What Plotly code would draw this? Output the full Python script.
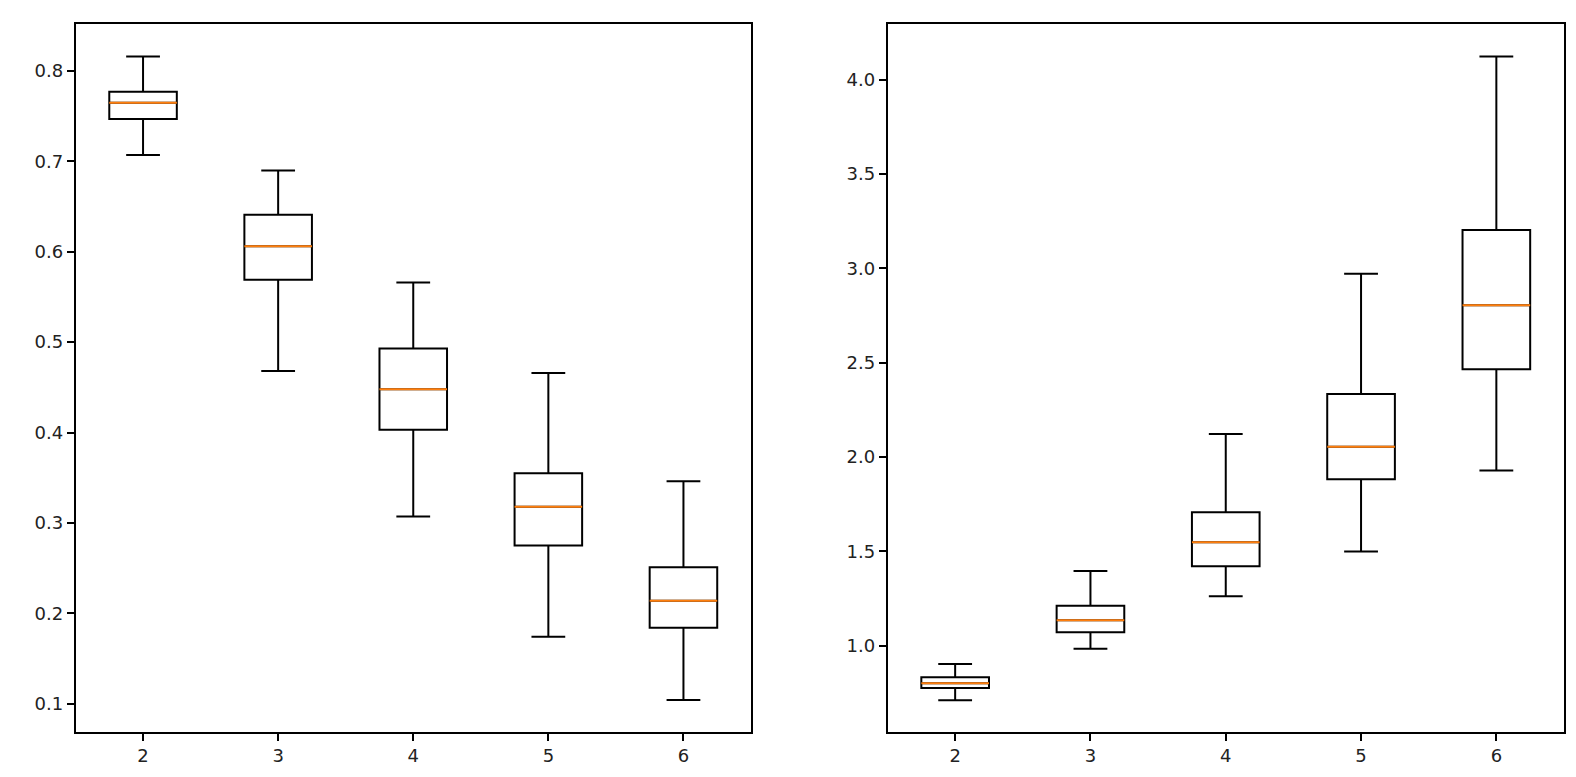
import plotly.graph_objects as go

W, H = 1576, 777

positions = [2, 3, 4, 5, 6]

# left panel (decreasing)
left_lower = [0.707, 0.468, 0.307, 0.174, 0.104]
left_q1 = [0.747, 0.569, 0.403, 0.275, 0.184]
left_median = [0.765, 0.606, 0.448, 0.318, 0.214]
left_q3 = [0.777, 0.641, 0.493, 0.355, 0.251]
left_upper = [0.816, 0.690, 0.566, 0.466, 0.346]

# right panel (increasing)
right_lower = [0.711, 0.984, 1.262, 1.500, 1.929]
right_q1 = [0.776, 1.071, 1.421, 1.883, 2.465]
right_median = [0.801, 1.135, 1.548, 2.055, 2.805]
right_q3 = [0.833, 1.212, 1.707, 2.334, 3.203]
right_upper = [0.903, 1.396, 2.122, 2.971, 4.123]

left_ticks = [0.1, 0.2, 0.3, 0.4, 0.5, 0.6, 0.7, 0.8]
right_ticks = [1.0, 1.5, 2.0, 2.5, 3.0, 3.5, 4.0]

FONT = "DejaVu Sans"
fig = go.Figure()


def add_panel(lower, q1, med, q3, upper, xa, ya):
    # box + whiskers with caps
    fig.add_trace(go.Box(
        x=positions, q1=q1, median=med, q3=q3,
        lowerfence=lower, upperfence=upper,
        width=0.5, whiskerwidth=0.5,
        line=dict(color="black", width=2), fillcolor="white",
        xaxis=xa, yaxis=ya, showlegend=False, hoverinfo="skip",
    ))
    # orange median on top
    fig.add_trace(go.Box(
        x=positions, q1=med, median=med, q3=med,
        lowerfence=med, upperfence=med,
        width=0.5, whiskerwidth=0,
        line=dict(color="#ff7f0e", width=2), fillcolor="rgba(0,0,0,0)",
        xaxis=xa, yaxis=ya, showlegend=False, hoverinfo="skip",
    ))


add_panel(left_lower, left_q1, left_median, left_q3, left_upper, "x", "y")
add_panel(right_lower, right_q1, right_median, right_q3, right_upper, "x2", "y2")

ax_common = dict(
    showline=True, mirror=True, linecolor="black", linewidth=1.5,
    ticks="outside", ticklen=7, tickwidth=1.5, tickcolor="black",
    showgrid=False, zeroline=False, automargin=False,
    tickfont=dict(family=FONT, size=18, color="#222"),
)

ytop = 1 - 16 / H
ybot = 1 - 724 / H

fig.update_layout(
    width=W, height=H,
    margin=dict(l=0, r=0, t=0, b=0),
    paper_bgcolor="white", plot_bgcolor="white",
    boxmode="overlay",
    xaxis=dict(domain=[67.5 / W, 743 / W], range=[1.5, 6.5],
               tickvals=positions, anchor="y", **ax_common),
    yaxis=dict(domain=[ybot, ytop], range=[0.0687, 0.852],
               tickvals=left_ticks, tickformat=".1f", anchor="x", **ax_common),
    xaxis2=dict(domain=[879.5 / W, 1556 / W], range=[1.5, 6.5],
                tickvals=positions, anchor="y2", **ax_common),
    yaxis2=dict(domain=[ybot, ytop], range=[0.543, 4.295],
                tickvals=right_ticks, tickformat=".1f", anchor="x2", **ax_common),
)

fig.write_html("out.html")
